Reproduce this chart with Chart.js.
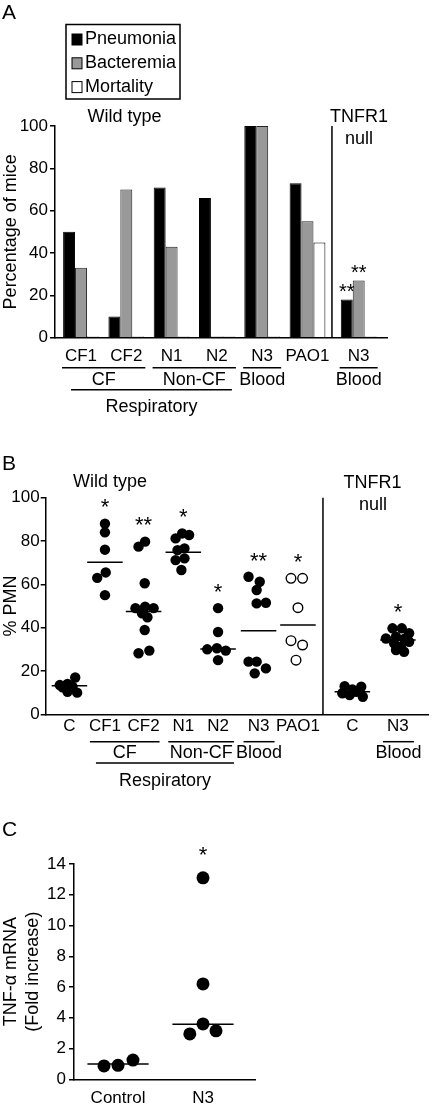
<!DOCTYPE html>
<html>
<head>
<meta charset="utf-8">
<script src="https://cdn.jsdelivr.net/npm/chart.js@4.4.1/dist/chart.umd.min.js"></script>
<style>
  html, body { margin: 0; padding: 0; background: #fff; }
  body { width: 435px; height: 1104px; position: relative; overflow: hidden; }
  canvas { position: absolute; left: 0; display: block; }
</style>
</head>
<body>
<canvas id="chartA" width="435" height="420" style="top:0"></canvas>
<canvas id="chartB" width="435" height="360" style="top:440px"></canvas>
<canvas id="chartC" width="435" height="294" style="top:810px"></canvas>
<script>
// ---- Panel A: outcome of infection (% of mice) ----
const groupsA = ['CF1', 'CF2', 'N1', 'N2', 'N3', 'PAO1', 'N3'];
const posA = [0, 1, 2, 3, 4, 5, 6.13];
const pneumonia = [50, 10, 71, 66, 100, 73, 18];
const bacteremia = [33, 70, 43, 0.6, 100, 55, 27];
const mortality = [0.6, 0.6, 0.6, 0.6, 0.6, 45, 0.6];
const starsPneumonia = ['', '', '', '', '', '', '**'];
const starsBacteremia = ['', '', '', '', '', '', '**'];

// ---- Panel B: % PMN in BAL ----
const groupsB = ['C', 'CF1', 'CF2', 'N1', 'N2', 'N3', 'PAO1', 'C', 'N3'];
const posB = [0, 0.92, 1.92, 2.95, 3.85, 4.9, 5.92, 7.33, 8.51];
const pmnB = [
  [13.5, 14, 17, 10.4, 10, 12.7, 12.5],
  [88, 84, 76, 63, 65.5, 55],
  [77.4, 79.7, 60.5, 49, 49.7, 49, 46.6, 44.8, 38.9, 28.2, 29.4],
  [81.2, 83.5, 82.8, 75.8, 76.6, 71.2, 72, 66.6],
  [49, 38, 30, 30.5, 29.4, 25],
  [63.5, 61.2, 57.4, 51.2, 51.5, 24.3, 24.3, 21.2, 18.9],
  [62.8, 62.8, 49.2, 34, 32, 25],
  [13, 11.5, 12.7, 9.7, 8.9, 8.1, 10.4],
  [39.7, 39.7, 37.4, 35, 35.8, 34.8, 33.5, 32.8, 31.2, 29.7, 28.9]
];
const jitterB = [
  [-0.25, -0.05, 0.15, -0.05, 0.2, 0.08, -0.18],
  [0, 0, 0, -0.2, 0.02, 0],
  [-0.13, 0.04, 0.03, -0.21, 0.04, 0.26, -0.04, 0.1, 0.03, -0.13, 0.15],
  [-0.2, -0.03, 0.15, -0.15, 0.03, -0.2, 0.03, -0.05],
  [0, 0, -0.28, -0.03, 0.2, 0],
  [-0.26, 0.03, -0.05, -0.05, 0.19, -0.26, -0.05, 0.19, -0.1],
  [-0.18, 0.12, 0, -0.18, 0.12, -0.05],
  [-0.2, 0, 0.23, -0.26, -0.07, 0.27, 0.1],
  [-0.14, 0.1, 0.29, -0.31, -0.05, 0.16, 0.29, -0.1, 0.08, -0.05, 0.16]
];
const openB = [false, false, false, false, false, false, true, false, false];
const lineB = [13.2, 70.2, 47.5, 74.8, 30.1, 38.6, 41.2, 10.4, 34.3];
const starsB = ['', '*', '**', '*', '*', '**', '*', '', '*'];

// ---- Panel C: TNF-alpha mRNA fold increase ----
const groupsC = ['Control', 'N3'];
const posC = [0, 1];
const tnfC = [[0.87, 0.91, 1.25], [13.1, 6.2, 3.6, 2.95, 3.15]];
const jitterC = [[-0.165, 0, 0.176], [0, 0, 0, -0.155, 0.153]];
const lineC = [1.0, 3.58];
const starsC = ['', '*'];

const ink = '#000';
const FONT = "'Liberation Sans', Arial, sans-serif";
Chart.defaults.font.family = FONT;
Chart.defaults.font.size = 17;
Chart.defaults.color = ink;
Chart.defaults.animation = false;
Chart.defaults.plugins.legend.display = false;
Chart.defaults.plugins.tooltip.enabled = false;

function text(ctx, s, x, y, opt = {}) {
  ctx.save();
  ctx.font = `${opt.size || 18}px ${FONT}`;
  ctx.fillStyle = ink;
  ctx.textAlign = opt.align || 'center';
  ctx.textBaseline = opt.base || 'middle';
  ctx.translate(x, y);
  if (opt.rotate) ctx.rotate(opt.rotate);
  ctx.fillText(s, 0, 0);
  ctx.restore();
}
function rule(ctx, x0, y0, x1, y1, w = 1.5) {
  ctx.save();
  ctx.strokeStyle = ink;
  ctx.lineWidth = w;
  ctx.beginPath();
  ctx.moveTo(x0, y0);
  ctx.lineTo(x1, y1);
  ctx.stroke();
  ctx.restore();
}
// centre an asterisk mark at cy
function star(ctx, s, x, cy, size) {
  text(ctx, s, x, cy + 0.58 * size, { size, base: 'alphabetic' });
}
function brackets(chart, pos, list, rows) {
  const { ctx, chartArea: a, scales: { x } } = chart;
  list.forEach(b => {
    const r = rows[b.row];
    const x0 = x.getPixelForValue(pos[b.from]) - r.padL;
    const x1 = x.getPixelForValue(pos[b.to]) + r.padR;
    rule(ctx, x0, a.bottom + r.line, x1, a.bottom + r.line);
    text(ctx, b.label, (x0 + x1) / 2, a.bottom + r.text);
  });
}

function yAxis(max, step, width, pad) {
  return {
    min: 0, max: max,
    ticks: { stepSize: step, padding: pad, color: ink },
    grid: { drawOnChartArea: false, tickLength: 5, color: ink, lineWidth: 1.5 },
    border: { color: ink, width: 1.5 },
    afterFit: s => { s.width = width; }
  };
}
function xAxis(pos, names, min, max, pad, h) {
  return {
    type: 'linear', min: min, max: max, bounds: 'data', offset: false,
    afterBuildTicks: s => { s.ticks = pos.map(v => ({ value: v })); },
    ticks: { autoSkip: false, maxRotation: 0, minRotation: 0, padding: pad, color: ink,
             callback: (v, i) => names[i] },
    grid: { display: false, drawTicks: false },
    border: { color: ink, width: 1.5 },
    afterFit: s => { s.height = h; }
  };
}
function dots(vals, jit, pos, pick) {
  const out = [];
  vals.forEach((g, i) => { if (pick(i)) g.forEach((v, k) => out.push({ x: pos[i] + jit[i][k], y: v })); });
  return out;
}
function centreLines(vals, pos, hw) {
  return vals.map((m, i) => ({
    showLine: true, data: [{ x: pos[i] - hw, y: m }, { x: pos[i] + hw, y: m }],
    borderColor: ink, borderWidth: 1.5, pointRadius: 0
  }));
}

// ---------- A ----------
const decorA = {
  id: 'decorA',
  afterDraw(chart) {
    const { ctx, chartArea: a, scales: { x } } = chart;
    text(ctx, 'A', 2, 13, { size: 21, align: 'left' });
    // legend
    ctx.save();
    ctx.strokeStyle = ink; ctx.lineWidth = 1.5;
    ctx.strokeRect(66, 24.5, 114, 74.5);
    chart.data.datasets.forEach((d, i) => {
      const cy = 39.5 + i * 23.8;
      ctx.fillStyle = d.backgroundColor;
      ctx.fillRect(72, cy - 5.5, 10, 11);
      ctx.strokeStyle = ink; ctx.lineWidth = 1;
      ctx.strokeRect(72, cy - 5.5, 10, 11);
      text(ctx, d.label, 85, cy, { align: 'left' });
    });
    ctx.restore();
    text(ctx, 'Wild type', 124.5, 117);
    text(ctx, 'TNFR1', 359, 117);
    text(ctx, 'null', 359, 139);
    text(ctx, 'Percentage of mice', 11, (a.top + a.bottom) / 2, { rotate: -Math.PI / 2 });
    const sx = x.getPixelForValue(5.54);
    rule(ctx, sx, a.top, sx, a.bottom);
    brackets(chart, posA, [
      { label: 'CF', from: 0, to: 1, row: 0 },
      { label: 'Non-CF', from: 2, to: 3, row: 0 },
      { label: 'Blood', from: 4, to: 4, row: 0 },
      { label: 'Blood', from: 6, to: 6, row: 0 },
      { label: 'Respiratory', from: 0, to: 3, row: 1 }
    ], [{ padL: 19, padR: 19, line: 30, text: 42.5 }, { padL: 10, padR: 15, line: 52, text: 69.5 }]);
    [starsPneumonia, starsBacteremia].forEach((marks, d) => {
      const meta = chart.getDatasetMeta(d);
      marks.forEach((m, i) => { if (m) star(ctx, m, meta.data[i].x, meta.data[i].y - 13.5, 20); });
    });
  }
};

new Chart(document.getElementById('chartA'), {
  type: 'bar',
  data: {
    datasets: [
      { label: 'Pneumonia', data: posA.map((v, i) => ({ x: v, y: pneumonia[i] })),
        backgroundColor: '#000', borderColor: '#000', borderWidth: 1 },
      { label: 'Bacteremia', data: posA.map((v, i) => ({ x: v, y: bacteremia[i] })),
        backgroundColor: '#999', borderColor: '#222', borderWidth: 1 },
      { label: 'Mortality', data: posA.map((v, i) => ({ x: v, y: mortality[i] })),
        backgroundColor: '#fff', borderColor: '#000', borderWidth: 1 }
    ]
  },
  options: {
    responsive: false,
    layout: { padding: { top: 126, right: 48, bottom: 52.3, left: 0 } },
    datasets: { bar: { categoryPercentage: 0.79, barPercentage: 1 } },
    scales: {
      x: xAxis(posA, groupsA, -0.574, 6.755, 8, 30),
      y: yAxis(100, 20, 55, 2)
    }
  },
  plugins: [decorA]
});

// ---------- B ----------
const decorB = {
  id: 'decorB',
  afterDraw(chart) {
    const { ctx, chartArea: a, scales: { x, y } } = chart;
    text(ctx, 'B', 2, 24, { size: 21, align: 'left' });
    text(ctx, 'Wild type', 110, 42.5);
    text(ctx, 'TNFR1', 372.5, 43);
    text(ctx, 'null', 373, 65);
    text(ctx, '% PMN', 11, (a.top + a.bottom) / 2, { rotate: -Math.PI / 2 });
    const sx = x.getPixelForValue(6.568);
    rule(ctx, sx, a.top, sx, a.bottom);
    brackets(chart, posB, [
      { label: 'CF', from: 1, to: 2, row: 0 },
      { label: 'Non-CF', from: 3, to: 4, row: 0 },
      { label: 'Blood', from: 5, to: 5, row: 0 },
      { label: 'Blood', from: 8, to: 8, row: 0 },
      { label: 'Respiratory', from: 1, to: 4, row: 1 }
    ], [{ padL: 15, padR: 16, line: 27.4, text: 39 }, { padL: 9, padR: 16, line: 48.7, text: 66.5 }]);
    starsB.forEach((m, i) => {
      if (m) star(ctx, m, x.getPixelForValue(posB[i]), y.getPixelForValue(Math.max(...pmnB[i])) - 22, 22);
    });
  }
};

new Chart(document.getElementById('chartB'), {
  type: 'scatter',
  data: {
    datasets: [
      { data: dots(pmnB, jitterB, posB, i => !openB[i]), pointRadius: 5.2,
        pointBackgroundColor: ink, pointBorderColor: ink, pointBorderWidth: 0 },
      { data: dots(pmnB, jitterB, posB, i => openB[i]), pointRadius: 4.8,
        pointBackgroundColor: '#fff', pointBorderColor: ink, pointBorderWidth: 1.4 },
      ...centreLines(lineB, posB, 0.46)
    ]
  },
  options: {
    responsive: false,
    layout: { padding: { top: 57.7, right: 2, bottom: 55.7, left: 0 } },
    scales: {
      x: xAxis(posB, groupsB, -0.615, 9.31, 2, 30),
      y: yAxis(100, 20, 45.7, 1)
    }
  },
  plugins: [decorB]
});

// ---------- C ----------
const decorC = {
  id: 'decorC',
  afterDraw(chart) {
    const { ctx, chartArea: a, scales: { x, y } } = chart;
    text(ctx, 'C', 2, 20, { size: 21, align: 'left' });
    const cy = (a.top + a.bottom) / 2;
    text(ctx, 'TNF-\u03b1 mRNA', 11, cy, { rotate: -Math.PI / 2 });
    text(ctx, '(Fold increase)', 33, cy, { rotate: -Math.PI / 2 });
    starsC.forEach((m, i) => {
      if (m) star(ctx, m, x.getPixelForValue(posC[i]), y.getPixelForValue(Math.max(...tnfC[i])) - 29, 22);
    });
  }
};

new Chart(document.getElementById('chartC'), {
  type: 'scatter',
  data: {
    datasets: [
      { data: dots(tnfC, jitterC, posC, () => true), pointRadius: 6.5,
        pointBackgroundColor: ink, pointBorderColor: ink, pointBorderWidth: 0 },
      ...centreLines(lineC, posC, 0.36)
    ]
  },
  options: {
    responsive: false,
    layout: { padding: { top: 54, right: 180, bottom: 0, left: 0 } },
    scales: {
      x: xAxis(posC, groupsC, -0.518, 1.612, 8.5, 24.7),
      y: yAxis(14, 2, 74, 3)
    }
  },
  plugins: [decorC]
});
</script>
</body>
</html>
